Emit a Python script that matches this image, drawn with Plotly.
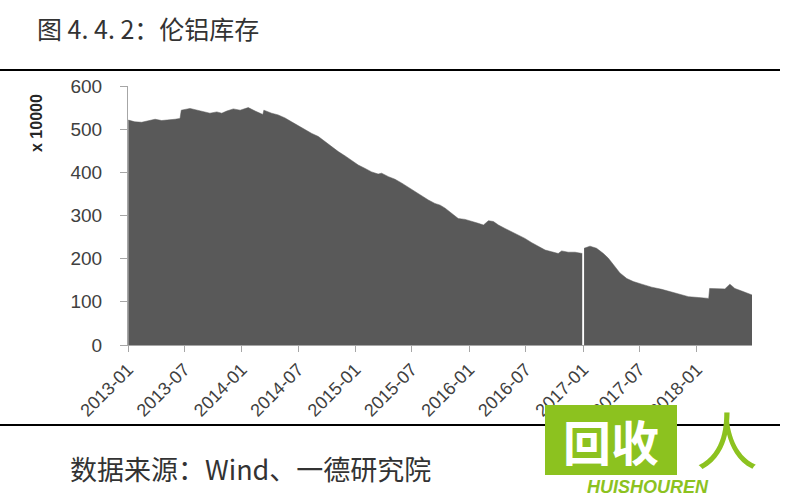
import plotly.graph_objects as go

dates = [
    "2013-01-02", "2013-01-23", "2013-02-14", "2013-03-07", "2013-03-29", "2013-04-19",
    "2013-05-10", "2013-06-01", "2013-06-17", "2013-06-21", "2013-07-19", "2013-08-10",
    "2013-08-31", "2013-09-21", "2013-10-13", "2013-10-29", "2013-11-14", "2013-12-05",
    "2013-12-27", "2014-01-22", "2014-02-13", "2014-03-10", "2014-03-13", "2014-04-07",
    "2014-04-28", "2014-05-20", "2014-06-10", "2014-07-02", "2014-07-23", "2014-08-14",
    "2014-09-04", "2014-09-25", "2014-10-17", "2014-11-07", "2014-11-29", "2014-12-20",
    "2015-01-10", "2015-02-01", "2015-02-22", "2015-03-15", "2015-03-26", "2015-04-17",
    "2015-05-08", "2015-05-30", "2015-06-20", "2015-07-11", "2015-08-02", "2015-08-23",
    "2015-09-13", "2015-09-30", "2015-10-16", "2015-11-06", "2015-11-27", "2015-12-19",
    "2016-01-09", "2016-01-30", "2016-02-16", "2016-03-03", "2016-03-19", "2016-04-04",
    "2016-04-25", "2016-05-17", "2016-06-07", "2016-06-28", "2016-07-20", "2016-08-10",
    "2016-09-01", "2016-09-22", "2016-10-13", "2016-10-24", "2016-11-14", "2016-12-06",
    "2016-12-29",
    "2017-01-01",
    "2017-01-04", "2017-01-23", "2017-02-13", "2017-03-07", "2017-03-23", "2017-04-08",
    "2017-04-29", "2017-05-21", "2017-06-11", "2017-07-08", "2017-08-09", "2017-09-10",
    "2017-10-12", "2017-11-13", "2017-12-05", "2018-01-06", "2018-02-08", "2018-02-11",
    "2018-03-11", "2018-04-01", "2018-04-17", "2018-05-03", "2018-05-25", "2018-06-15",
    "2018-06-27",
]
stock = [
    521, 517, 516, 519, 523, 520,
    521, 523, 525, 544, 548, 544,
    540, 537, 540, 537, 542, 547,
    544, 550, 542, 534, 544, 537,
    533, 526, 517, 508, 498, 490,
    483, 471, 459, 448, 438, 428,
    417, 409, 401, 396, 398, 390,
    384, 375, 365, 355, 345, 336,
    328, 324, 317, 305, 293, 291,
    287, 282, 278, 288, 286, 278,
    270, 262, 255, 247, 237, 228,
    220, 216, 212, 218, 215, 215,
    212,
    None,
    224, 229, 224, 212, 201, 185,
    167, 154, 147, 141, 134, 129,
    123, 117, 112, 110, 108, 131,
    131, 130, 141, 131, 125, 120,
    116,
]
y_ticks = [0, 100, 200, 300, 400, 500, 600]

title_text = "图 4. 4. 2：伦铝库存"
source_text = "数据来源：Wind、一德研究院"
y_title = "x 10000"

# the series has a break (None) at 2017-01: draw each side as its own filled area
gap = stock.index(None)
segments = [(dates[:gap], stock[:gap]), (dates[gap + 1:], stock[gap + 1:])]

fig = go.Figure()
for sx, sy in segments:
    fig.add_trace(go.Scatter(
        x=sx, y=sy, mode="lines", fill="tozeroy",
        line=dict(color="#595959", width=0.5, shape="linear"),
        fillcolor="#595959", hoverinfo="skip",
    ))

font_cjk = "Noto Sans CJK SC"
W, H = 800, 500
L, R, T, B = 128, 48, 86, 155
PW, PH = W - L - R, H - T - B


def px(x):
    return (x - L) / PW


def py(y):
    return (H - B - y) / PH


fig.update_layout(
    width=W, height=H,
    margin=dict(l=L, r=R, t=T, b=B),
    paper_bgcolor="white", plot_bgcolor="white",
    showlegend=False,
    font=dict(family="Liberation Sans, Arial", color="#404040"),
    xaxis=dict(
        type="date",
        range=["2013-01-01", "2018-06-27"],
        tick0="2013-01-01", dtick="M6", tickformat="%Y-%m",
        tickangle=-45, ticks="outside", ticklen=6, tickcolor="#a6a6a6",
        showline=True, linecolor="#a6a6a6", linewidth=1,
        showgrid=False, zeroline=False,
        tickfont=dict(size=18, color="#404040"),
    ),
    yaxis=dict(
        range=[0, 600], tickvals=y_ticks,
        ticks="outside", ticklen=7, tickcolor="#a6a6a6",
        showline=True, linecolor="#a6a6a6", linewidth=1,
        showgrid=False, zeroline=False,
        ticklabelstandoff=14,
        tickfont=dict(size=19, color="#404040"),
    ),
    shapes=[
        dict(type="line", xref="paper", yref="paper",
             x0=px(0), x1=px(780), y0=py(70), y1=py(70),
             line=dict(color="black", width=2)),
        dict(type="line", xref="paper", yref="paper",
             x0=px(0), x1=px(780), y0=py(425), y1=py(425),
             line=dict(color="black", width=2)),
        dict(type="rect", xref="paper", yref="paper",
             x0=px(545), x1=px(677), y0=py(475), y1=py(405),
             fillcolor="#8cc21f", line=dict(width=0), layer="above"),
    ],
    annotations=[
        dict(text=title_text, xref="paper", yref="paper",
             x=px(35), y=py(28), xanchor="left", yanchor="middle",
             showarrow=False, font=dict(family=font_cjk, size=25, color="#333333")),
        dict(text=source_text, xref="paper", yref="paper",
             x=px(68), y=py(468), xanchor="left", yanchor="middle",
             showarrow=False, font=dict(family=font_cjk, size=27, color="#333333")),
        dict(text="<b>" + y_title + "</b>", xref="paper", yref="paper",
             x=px(36), y=py(123), xanchor="center", yanchor="middle",
             textangle=-90, showarrow=False,
             font=dict(family="Liberation Sans, Arial", size=16, color="#262626")),
        dict(text="<b>回收</b>", xref="paper", yref="paper",
             x=px(611), y=py(440), xanchor="center", yanchor="middle",
             showarrow=False, font=dict(family=font_cjk, size=48, color="white")),
        dict(text="人", xref="paper", yref="paper",
             x=px(727), y=py(438), xanchor="center", yanchor="middle",
             showarrow=False, font=dict(family=font_cjk, size=62, color="#8cc21f")),
        dict(text="<b><i>HUISHOUREN</i></b>", xref="paper", yref="paper",
             x=px(648), y=py(487), xanchor="center", yanchor="middle",
             showarrow=False, font=dict(family="Liberation Sans, Arial", size=18, color="#8cc21f")),
    ],
)

fig.write_html("out.html", config={"displayModeBar": False},
               post_script="document.body.style.margin='0';")
